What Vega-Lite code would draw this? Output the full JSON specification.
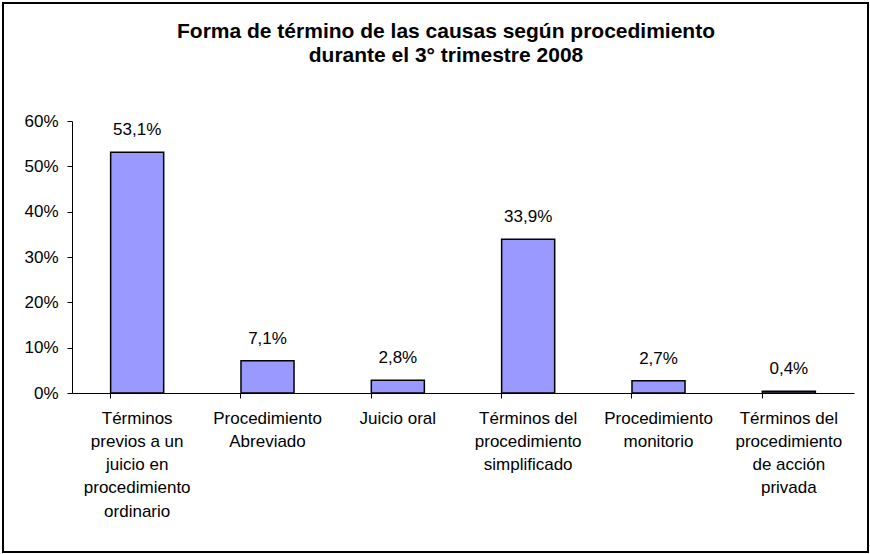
{
  "$schema": "https://vega.github.io/schema/vega-lite/v6.json",
  "width": 782,
  "height": 272,
  "autosize": {"type": "none"},
  "padding": {"left": 72, "top": 121, "right": 16, "bottom": 161},
  "background": "white",
  "title": {
    "text": ["Forma de término de las causas según procedimiento", "durante el 3° trimestre 2008"],
    "anchor": "middle",
    "frame": "group",
    "dx": -17,
    "dy": 64,
    "offset": 0,
    "font": "Liberation Sans",
    "fontSize": 21,
    "fontWeight": "bold",
    "color": "#000000",
    "lineHeight": 24
  },
  "data": {
    "values": [
      {"cat": "Términos|previos a un|juicio en|procedimiento|ordinario", "pct": 0.531},
      {"cat": "Procedimiento|Abreviado", "pct": 0.071},
      {"cat": "Juicio oral", "pct": 0.028},
      {"cat": "Términos del|procedimiento|simplificado", "pct": 0.339},
      {"cat": "Procedimiento|monitorio", "pct": 0.027},
      {"cat": "Términos del|procedimiento|de acción|privada", "pct": 0.004}
    ]
  },
  "layer": [
    {
      "mark": {"type": "rect", "fill": null, "stroke": "#000000", "strokeWidth": 2},
      "encoding": {
        "x": {"value": -69},
        "x2": {"value": 796},
        "y": {"value": -118},
        "y2": {"value": 431}
      }
    },
    {
      "mark": {"type": "bar", "color": "#9999FF", "stroke": "#000000", "strokeWidth": 1.5},
      "encoding": {
        "x": {
          "field": "cat",
          "type": "nominal",
          "sort": null,
          "scale": {"paddingInner": 0.593, "paddingOuter": 0.2965},
          "axis": {
            "title": null,
            "labelExpr": "split(datum.label, '|')",
            "labelAngle": 0,
            "labelFont": "Liberation Sans",
            "labelFontSize": 17,
            "labelColor": "#000000",
            "labelLineHeight": 23.3,
            "labelBaseline": "top",
            "labelPadding": 12,
            "bandPosition": 0,
            "tickSize": 5,
            "tickColor": "#000000",
            "domainColor": "#000000",
            "labelLimit": 200
          }
        },
        "y": {
          "field": "pct",
          "type": "quantitative",
          "scale": {"domain": [0, 0.6], "nice": false},
          "axis": {
            "title": null,
            "format": ".0%",
            "values": [0, 0.1, 0.2, 0.3, 0.4, 0.5, 0.6],
            "grid": false,
            "labelFont": "Liberation Sans",
            "labelFontSize": 17,
            "labelColor": "#000000",
            "labelPadding": 9,
            "tickSize": 5,
            "tickColor": "#000000",
            "domainColor": "#000000"
          }
        }
      }
    },
    {
      "mark": {"type": "text", "baseline": "alphabetic", "dy": -17, "font": "Liberation Sans", "fontSize": 17, "color": "#000000"},
      "encoding": {
        "x": {"field": "cat", "type": "nominal", "sort": null},
        "y": {"field": "pct", "type": "quantitative"},
        "text": {"field": "pct", "type": "quantitative", "format": ".1%"}
      }
    }
  ],
  "config": {
    "view": {"stroke": null},
    "locale": {"number": {"decimal": ",", "thousands": ".", "grouping": [3], "currency": ["", " €"]}}
  }
}
